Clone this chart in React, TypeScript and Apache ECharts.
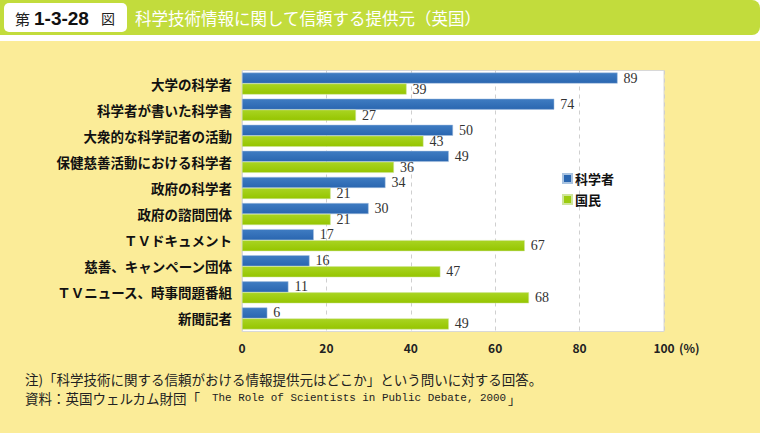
import React, { useEffect, useRef } from "react";
import * as echarts from "echarts";

const categories = [
  "大学の科学者",
  "科学者が書いた科学書",
  "大衆的な科学記者の活動",
  "保健慈善活動における科学者",
  "政府の科学者",
  "政府の諮問団体",
  "ＴＶドキュメント",
  "慈善、キャンペーン団体",
  "ＴＶニュース、時事問題番組",
  "新聞記者",
];
const scientists = [89, 74, 50, 49, 34, 30, 17, 16, 11, 6];
const citizens = [39, 27, 43, 36, 21, 21, 67, 47, 68, 49];
const seriesNames = ["科学者", "国民"];
const xTicks = [0, 20, 40, 60, 80, 100];

const titleText = "科学技術情報に関して信頼する提供元（英国）";
const note1 = "注)「科学技術に関する信頼がおける情報提供元はどこか」という問いに対する回答。";
const note2a = "資料：英国ウェルカム財団「";
const note2b = "The Role of Scientists in Public Debate, 2000";
const note2c = "」";

const SANS = "'Noto Sans CJK JP', 'Noto Sans', sans-serif";
const SERIF = "'Liberation Serif', 'DejaVu Serif', serif";
const MONO = "'Liberation Mono', 'DejaVu Sans Mono', monospace";

export default function App() {
  const ref = useRef<HTMLDivElement>(null);
  useEffect(() => {
    const chart = echarts.init(ref.current!, null, { renderer: "svg" });
    const blue = new echarts.graphic.LinearGradient(0, 0, 0, 1, [
      { offset: 0, color: "#3f7cc2" },
      { offset: 1, color: "#2a66b0" },
    ]);
    const green = new echarts.graphic.LinearGradient(0, 0, 0, 1, [
      { offset: 0, color: "#a9d422" },
      { offset: 1, color: "#95c500" },
    ]);
    const labelCfg = {
      show: true,
      position: "right" as const,
      distance: 6,
      fontFamily: SERIF,
      fontSize: 14,
      color: "#333",
    };
    chart.setOption({
      animation: false,
      backgroundColor: "#ffffff",
      graphic: [
        { type: "rect", shape: { x: 0, y: 41, width: 760, height: 392 }, style: { fill: "#fbec98" }, z: -10 },
        { type: "rect", shape: { x: 0, y: 0, width: 760, height: 35, r: [0, 8, 8, 0] }, style: { fill: "#c2dc3c" }, z: -10 },
        { type: "rect", shape: { x: 4, y: 3, width: 123, height: 29, r: 5 }, style: { fill: "#ffffff" }, z: -9 },
        { type: "text", x: 15, y: 18, style: { text: "第", font: `15px ${SANS}`, fill: "#222", verticalAlign: "middle" } },
        { type: "text", x: 34, y: 18, style: { text: "1-3-28", font: `bold 19px 'Liberation Sans', Arial, sans-serif`, fill: "#111", verticalAlign: "middle" } },
        { type: "text", x: 101, y: 18, style: { text: "図", font: `14px ${SANS}`, fill: "#222", verticalAlign: "middle" } },
        { type: "text", x: 135, y: 18, style: { text: titleText, font: `16.5px ${SANS}`, fill: "#ffffff", verticalAlign: "middle" } },
        { type: "rect", shape: { x: 242, y: 70.5, width: 422, height: 261 }, style: { fill: "#ffffff", stroke: "#d8d8d8", lineWidth: 1 }, z: -5 },
        { type: "text", x: 679, y: 347, style: { text: "(%)", font: `bold 12px ${SANS}`, fill: "#222", verticalAlign: "middle" } },
        { type: "text", x: 25, y: 379, style: { text: note1, font: `13.5px ${SANS}`, fill: "#222", verticalAlign: "middle" } },
        { type: "text", x: 25, y: 398, style: { text: note2a, font: `13.5px ${SANS}`, fill: "#222", verticalAlign: "middle" } },
        { type: "text", x: 212, y: 398, style: { text: note2b, font: `10.9px ${MONO}`, fill: "#222", verticalAlign: "middle" } },
        { type: "text", x: 508, y: 399, style: { text: note2c, font: `12.5px ${SANS}`, fill: "#222", verticalAlign: "middle" } },
      ],
      legend: {
        orient: "vertical",
        left: 557,
        top: 167,
        itemWidth: 9,
        itemHeight: 9,
        itemGap: 8,
        icon: "rect",
        textStyle: { fontFamily: SANS, fontSize: 13, fontWeight: "bold", color: "#111", padding: [0, 0, 0, -2] },
        data: [
          { name: seriesNames[0], itemStyle: { color: "#2a66b0" } },
          { name: seriesNames[1], itemStyle: { color: "#9ccc10" } },
        ],
      },
      grid: { left: 242, top: 70.5, width: 422, height: 261, containLabel: false },
      xAxis: {
        type: "value",
        min: 0,
        max: 100,
        interval: 20,
        axisLine: { show: false },
        axisTick: { show: false },
        splitLine: { show: true, lineStyle: { color: "#cfcfcf", type: [4, 4] } },
        axisLabel: {
          margin: 10,
          fontFamily: SANS,
          fontSize: 12,
          fontWeight: "bold",
          color: "#222",
          formatter: (v: number) => (xTicks.includes(v) ? String(v) : ""),
        },
      },
      yAxis: {
        type: "category",
        inverse: true,
        data: categories,
        axisLine: { show: true, lineStyle: { color: "#d8d8d8" } },
        axisTick: { show: false },
        axisLabel: { margin: 10, fontFamily: SANS, fontSize: 13.5, fontWeight: "bold", color: "#111" },
      },
      series: [
        {
          name: seriesNames[0],
          type: "bar",
          data: scientists,
          barWidth: 11,
          barGap: "0%",
          itemStyle: { color: blue, borderColor: "#a9c3e0", borderWidth: 0.5 },
          label: labelCfg,
        },
        {
          name: seriesNames[1],
          type: "bar",
          data: citizens,
          barWidth: 11,
          barGap: "0%",
          itemStyle: { color: green, borderColor: "#cfe59a", borderWidth: 0.5 },
          label: labelCfg,
        },
      ],
    });
    return () => chart.dispose();
  }, []);
  return (
    <div
      ref={ref}
      style={{ position: "fixed", left: 0, top: 0, width: 760, height: 433 }}
    />
  );
}
